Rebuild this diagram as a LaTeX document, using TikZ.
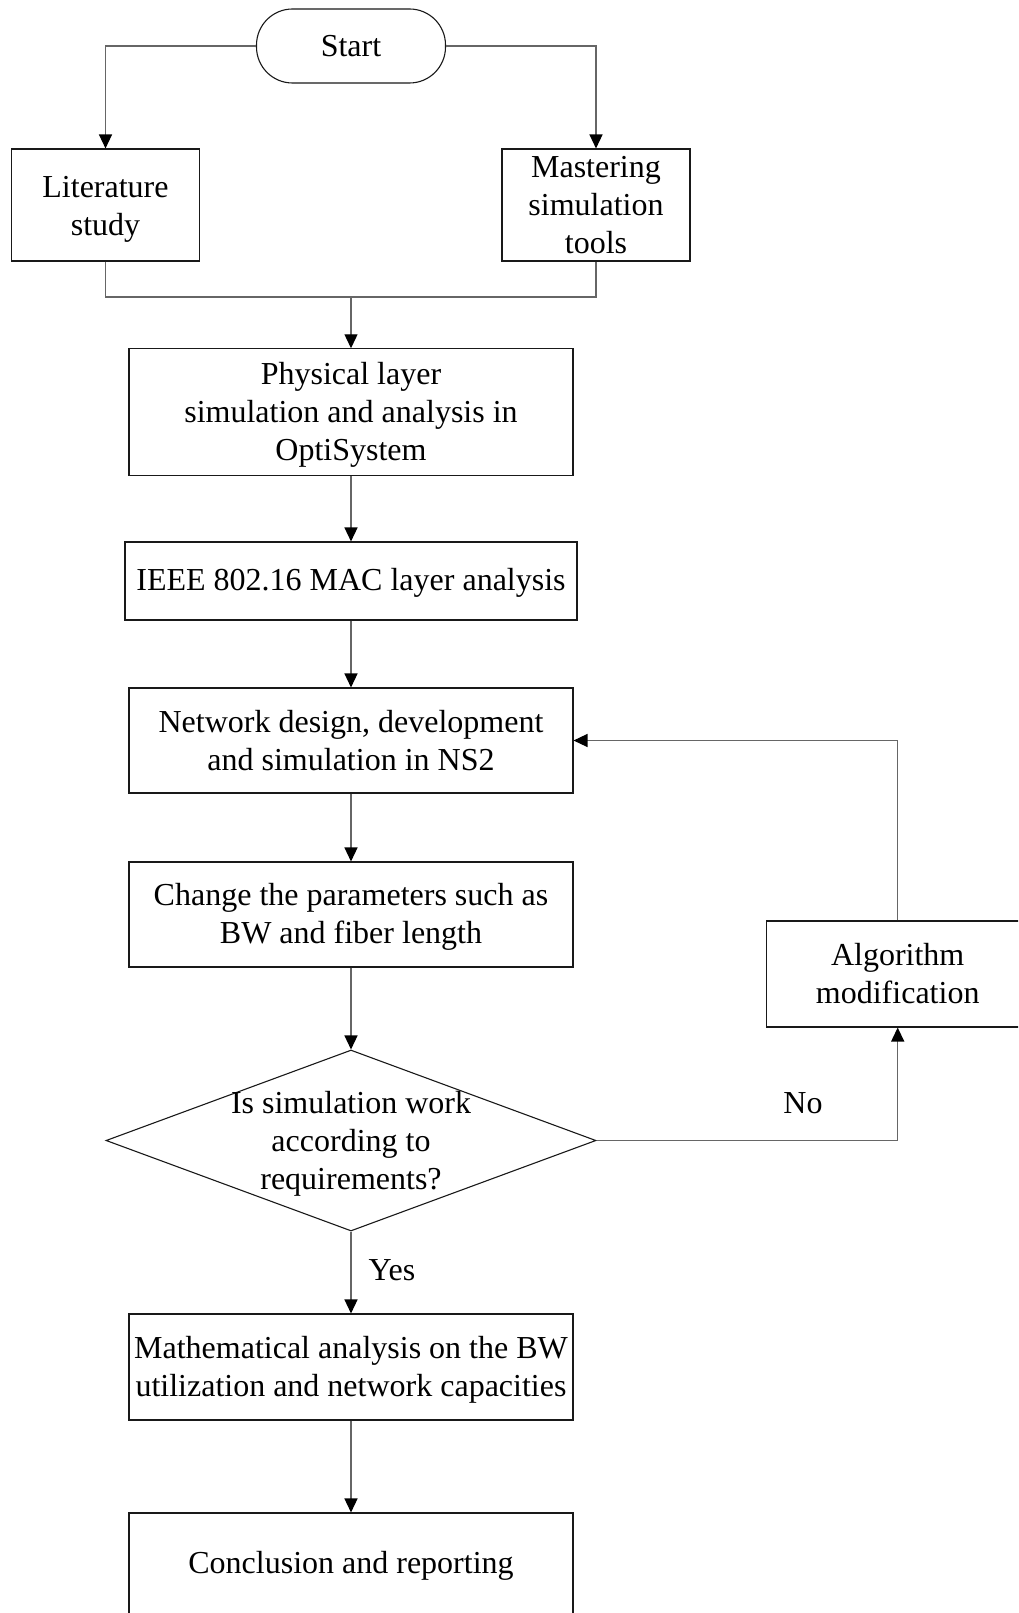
\documentclass[tikz,border=0pt]{standalone}
\usepackage{fontspec}
\setmainfont{Liberation Serif}
\usetikzlibrary{arrows.meta,shapes.geometric}
\newcommand{\lowertext}[2]{\raisebox{-#1}[\height][\depth]{\begin{tabular}{@{}c@{}}#2\end{tabular}}}
\begin{document}
\begin{tikzpicture}[x=1pt,y=-1pt,
  every node/.style={font=\fontsize{32}{38}\selectfont, align=center, inner sep=0pt},
  box/.style={draw=black!90, line width=1.1pt, rectangle},
  conn/.style={draw=black!60, line width=1.4pt},
  arr/.style={conn, -{Triangle[width=13pt,length=14pt,black]}}]
\clip (0,0) rectangle (1018,1613);
\fill[white] (0,0) rectangle (1018,1613);
\node[box, rounded corners=36pt, minimum width=189pt, minimum height=74pt] (start) at (351,46) {Start};
\node[box, minimum width=188pt, minimum height=112pt] (lit) at (105.5,205) {\lowertext{4pt}{Literature\\study}};
\node[box, minimum width=188pt, minimum height=112pt] (mast) at (596,205) {Mastering\\simulation\\tools};
\coordinate (join) at (351,297);
\node[box, minimum width=444pt, minimum height=127pt] (phys) at (351,412.3) {\lowertext{3pt}{Physical layer\\simulation and analysis in\\OptiSystem}};
\node[box, minimum width=452pt, minimum height=78pt] (ieee) at (351,581) {\lowertext{2pt}{IEEE 802.16 MAC layer analysis}};
\node[box, minimum width=444pt, minimum height=105pt] (net) at (351,740.5) {Network design, development\\and simulation in NS2};
\node[box, minimum width=444pt, minimum height=105pt] (chg) at (351,914.5) {\lowertext{2pt}{Change the parameters such as\\BW and fiber length}};
\node[draw=black!90, line width=1.1pt, diamond, minimum width=490pt, minimum height=181pt] (dia) at (351,1140.5) {};
\node (diatext) at (dia.center) {\lowertext{3pt}{Is simulation work\\according to\\requirements?}};
\node (yes) at (392,1270) {Yes};
\node[box, minimum width=444pt, minimum height=106pt] (math) at (351,1367) {\lowertext{3pt}{Mathematical analysis on the BW\\utilization and network capacities}};
\node[box, minimum width=444pt, minimum height=106pt] (conc) at (351,1566) {Conclusion and reporting};
\node[box, minimum width=263pt, minimum height=106pt] (algo) at (897.7,974) {Algorithm\\modification};
\node (no) at (803,1103) {No};
\draw[arr] (start.west) -| (lit.north);
\draw[arr] (start.east) -| (mast.north);
\draw[conn] (lit.south) |- (join) -| (mast.south);
\draw[arr] (join) -- (phys.north);
\draw[arr] (phys.south) -- (ieee.north);
\draw[arr] (ieee.south) -- (net.north);
\draw[arr] (net.south) -- (chg.north);
\draw[arr] (chg.south) -- (dia.north);
\draw[arr] (dia.south) -- (math.north);
\draw[arr] (math.south) -- (conc.north);
\draw[arr] (dia.east) -| (algo.south);
\draw[arr] (algo.north) |- (net.east);
\end{tikzpicture}
\end{document}
